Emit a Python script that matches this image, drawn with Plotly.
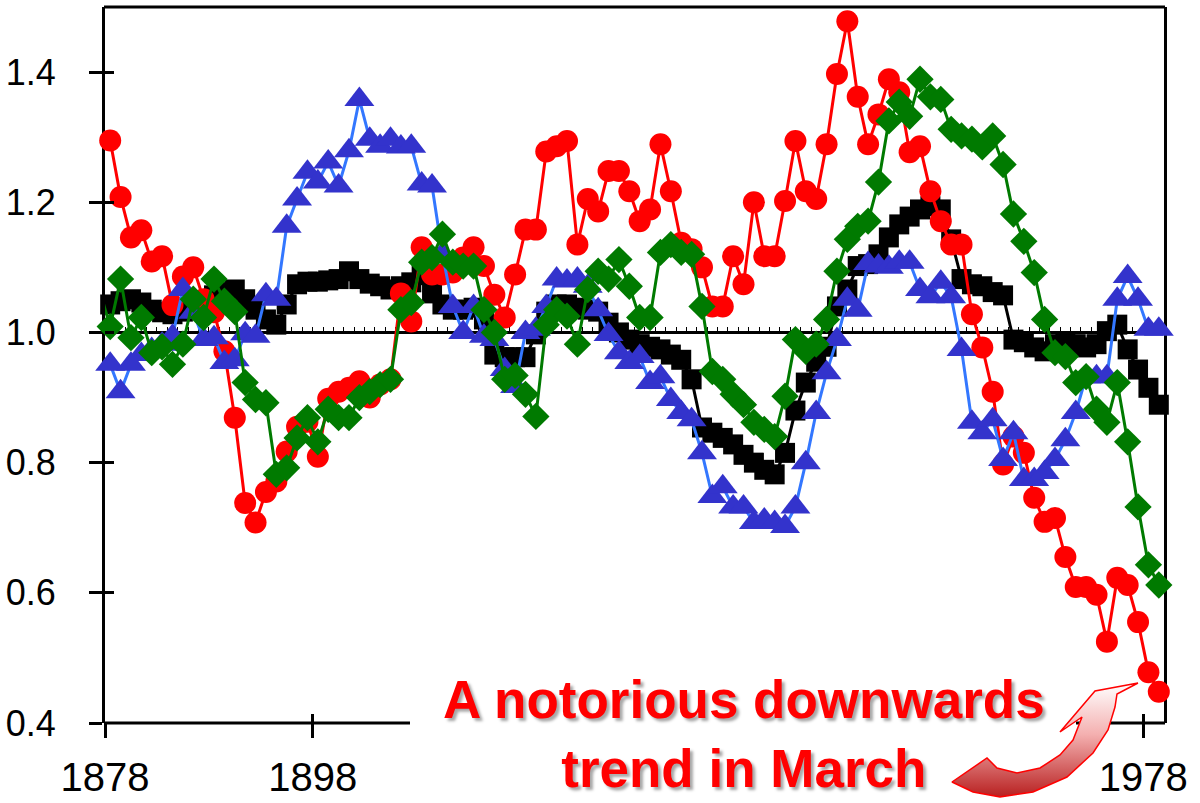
import plotly.graph_objects as go

# ---------------- data ----------------
years = [1877.5 + i for i in range(103)]

red = [1.308, 1.295, 1.208, 1.146, 1.157, 1.109, 1.117, 1.042, 1.086, 1.100,
       1.051, 1.031, 0.971, 0.869, 0.738, 0.708, 0.755, 0.771, 0.817, 0.855,
       0.863, 0.809, 0.898, 0.909, 0.915, 0.925, 0.900, 0.920, 0.928, 1.060,
       1.017, 1.131, 1.089, 1.089, 1.092, 1.115, 1.131, 1.102, 1.058, 1.023,
       1.089, 1.158, 1.158, 1.278, 1.286, 1.294, 1.135, 1.205, 1.186, 1.248,
       1.248, 1.217, 1.171, 1.189, 1.289, 1.217, 1.138, 1.128, 1.100, 1.040,
       1.040, 1.117, 1.074, 1.200, 1.117, 1.117, 1.202, 1.294, 1.217, 1.205,
       1.289, 1.397, 1.478, 1.362, 1.289, 1.335, 1.389, 1.369, 1.277, 1.286,
       1.217, 1.171, 1.135, 1.135, 1.028, 0.977, 0.909, 0.797, 0.840, 0.815,
       0.746, 0.709, 0.715, 0.655, 0.609, 0.609, 0.597, 0.525, 0.623, 0.612,
       0.555, 0.478, 0.448]

black = [1.057, 1.043, 1.048, 1.051, 1.046, 1.035, 1.031, 1.028, 1.032, 1.038,
         1.048, 1.057, 1.062, 1.066, 1.051, 1.035, 1.020, 1.012, 1.043, 1.074,
         1.078, 1.078, 1.080, 1.082, 1.094, 1.082, 1.075, 1.071, 1.066, 1.071,
         1.077, 1.088, 1.060, 1.043, 1.035, 1.035, 1.038, 1.020, 0.966, 0.962,
         0.962, 0.962, 0.997, 1.032, 1.043, 1.043, 1.038, 1.035, 1.032, 1.015,
         1.000, 0.989, 0.982, 0.978, 0.974, 0.966, 0.958, 0.928, 0.854, 0.846,
         0.838, 0.828, 0.812, 0.800, 0.789, 0.782, 0.815, 0.880, 0.923, 0.955,
         0.978, 1.040, 1.066, 1.102, 1.105, 1.120, 1.146, 1.166, 1.178, 1.189,
         1.194, 1.189, 1.143, 1.082, 1.074, 1.071, 1.062, 1.057, 0.989, 0.985,
         0.977, 0.971, 0.982, 0.986, 0.982, 0.977, 0.982, 1.002, 1.012, 0.974,
         0.943, 0.915, 0.889]

blue = [0.966, 0.951, 0.909, 0.951, 0.966, 0.974, 0.982, 0.994, 1.066, 1.031,
        0.989, 0.992, 0.954, 0.958, 0.998, 0.994, 1.058, 1.051, 1.163, 1.205,
        1.246, 1.231, 1.262, 1.225, 1.279, 1.358, 1.297, 1.286, 1.297, 1.285,
        1.286, 1.228, 1.225, 1.120, 1.040, 1.000, 1.040, 0.994, 0.989, 0.943,
        0.917, 1.000, 1.005, 1.040, 1.082, 1.079, 1.082, 1.071, 1.035, 0.997,
        0.969, 0.954, 0.963, 0.923, 0.932, 0.897, 0.877, 0.866, 0.815, 0.748,
        0.763, 0.732, 0.732, 0.708, 0.712, 0.708, 0.702, 0.732, 0.800, 0.877,
        0.938, 0.989, 1.051, 1.034, 1.106, 1.102, 1.100, 1.108, 1.108, 1.066,
        1.055, 1.077, 1.055, 0.974, 0.862, 0.846, 0.866, 0.805, 0.846, 0.774,
        0.774, 0.785, 0.805, 0.835, 0.877, 0.932, 0.932, 0.932, 1.051, 1.086,
        1.051, 1.005, 1.005]

green = [1.063, 1.009, 1.082, 0.992, 1.023, 0.969, 0.978, 0.951, 0.982, 1.051,
         1.023, 1.082, 1.048, 1.032, 0.923, 0.897, 0.892, 0.782, 0.792, 0.838,
         0.869, 0.832, 0.882, 0.869, 0.869, 0.900, 0.909, 0.920, 0.928, 1.035,
         1.046, 1.108, 1.115, 1.151, 1.108, 1.102, 1.102, 1.035, 1.000, 0.928,
         0.934, 0.905, 0.871, 1.012, 1.035, 1.025, 0.982, 1.066, 1.094, 1.082,
         1.112, 1.071, 1.023, 1.023, 1.123, 1.135, 1.123, 1.120, 1.040, 0.940,
         0.928, 0.905, 0.889, 0.862, 0.851, 0.840, 0.902, 0.989, 0.971, 0.982,
         1.020, 1.094, 1.143, 1.163, 1.171, 1.231, 1.325, 1.354, 1.332, 1.389,
         1.362, 1.358, 1.312, 1.302, 1.297, 1.285, 1.302, 1.258, 1.182, 1.140,
         1.092, 1.020, 0.969, 0.963, 0.923, 0.932, 0.882, 0.862, 0.923, 0.832,
         0.732, 0.643, 0.612]

x_tick_vals = [1878, 1898, 1978]
x_tick_text = ["1878", "1898", "1978"]
y_tick_vals = [0.4, 0.6, 0.8, 1.0, 1.2, 1.4]
y_tick_text = ["0.4", "0.6", "0.8", "1.0", "1.2", "1.4"]
reference_level = 1.0
annotation_text = "<b>A notorious downwards</b><br><b>trend in March</b>"

# ---------------- layout geometry (pixels) ----------------
W, H = 1200, 803
PL, PR, PT, PB = 105, 1164, 7, 723
X_RANGE = [1878, 1980]
Y_RANGE = [0.4, 1.5]
xdom = [PL / W, PR / W]
ydom = [1 - PB / H, 1 - PT / H]
ref_pos = ydom[0] + (reference_level - Y_RANGE[0]) / (Y_RANGE[1] - Y_RANGE[0]) * (ydom[1] - ydom[0])


def px(X):
    return X / W


def py(Y):
    return 1 - Y / H


FONT = "Liberation Sans, Arial, sans-serif"
CLEAR = "rgba(0,0,0,0)"

fig = go.Figure()


def add_series(vals, line_color, marker_color, symbol, size):
    fig.add_trace(go.Scatter(
        x=years, y=vals, mode="lines+markers",
        line=dict(color=line_color, width=3),
        marker=dict(symbol=symbol, size=size, color=marker_color, line=dict(width=0)),
        cliponaxis=False, showlegend=False, hoverinfo="skip"))


add_series(black, "#000000", "#000000", "square", 20)
add_series(red, "#FF0000", "#FF0000", "circle", 22)
add_series(blue, "#3377FF", "#3333CC", "triangle-up", 26)
add_series(green, "#007A00", "#007A00", "diamond", 21)

# dummy traces to instantiate helper axes
fig.add_trace(go.Scatter(x=[None], y=[None], xaxis="x2", yaxis="y", showlegend=False, hoverinfo="skip"))
fig.add_trace(go.Scatter(x=[None], y=[None], xaxis="x3", yaxis="y", showlegend=False, hoverinfo="skip"))
fig.add_trace(go.Scatter(x=[None], y=[None], xaxis="x", yaxis="y2", showlegend=False, hoverinfo="skip"))

# curved arrow (decorative outline, pixel space)
arrow_px = [(1138, 683), (1095, 691), (1060, 732), (1082, 717), (1073, 740),
            (1060, 755), (1040, 768), (1017, 773), (997, 768), (987, 758),
            (952, 782), (973, 792), (1000, 797), (1033, 792), (1067, 777),
            (1093, 753), (1108, 730), (1115, 707), (1117, 694), (1138, 683)]
fig.add_trace(go.Scatter(
    x=[p[0] for p in arrow_px], y=[p[1] for p in arrow_px],
    xaxis="x4", yaxis="y4", mode="lines", fill="toself",
    line=dict(color="#FF0000", width=1.5),
    fillgradient=dict(type="vertical", colorscale=[[0, "#b82020"], [0.55, "#f4b0b0"], [1, "#ffffff"]]),
    showlegend=False, hoverinfo="skip"))

axis_common = dict(showgrid=False, zeroline=False, automargin=False)

fig.update_layout(
    width=W, height=H,
    margin=dict(l=0, r=0, t=0, b=0, autoexpand=False),
    paper_bgcolor="white", plot_bgcolor=CLEAR,
    font=dict(family=FONT, color="black"),
    xaxis=dict(domain=xdom, range=X_RANGE, anchor="y", showline=False,
               tickmode="array", tickvals=x_tick_vals, ticktext=x_tick_text,
               ticks="outside", ticklen=14, tickwidth=3, tickcolor="black",
               tickfont=dict(size=40, family=FONT), ticklabelstandoff=5,
               **axis_common),
    xaxis2=dict(domain=xdom, range=X_RANGE, overlaying="x", anchor="free", position=ref_pos,
                showline=True, linecolor="black", linewidth=3, layer="below traces",
                tickmode="linear", tick0=1878, dtick=1, ticks="inside", ticklen=4,
                tickwidth=1, tickcolor="black", showticklabels=False, **axis_common),
    xaxis3=dict(domain=xdom, range=X_RANGE, overlaying="x", anchor="y", showline=False,
                tickmode="array", tickvals=x_tick_vals, ticks="inside", ticklen=9,
                tickwidth=3, tickcolor="black", showticklabels=False, **axis_common),
    yaxis=dict(domain=ydom, range=Y_RANGE, anchor="x",
               showline=True, linecolor="black", linewidth=3, mirror=True, layer="below traces",
               tickmode="array", tickvals=y_tick_vals, ticktext=y_tick_text,
               ticks="outside", ticklen=13, tickwidth=3, tickcolor="black",
               tickfont=dict(size=36, family=FONT), ticklabelstandoff=26,
               **axis_common),
    yaxis2=dict(domain=ydom, range=Y_RANGE, overlaying="y", anchor="x", showline=False,
                tickmode="array", tickvals=y_tick_vals, ticks="inside", ticklen=9,
                tickwidth=3, tickcolor="black", showticklabels=False, **axis_common),
    xaxis4=dict(domain=[0, 1], range=[0, W], visible=False, anchor="y4", fixedrange=True, automargin=False),
    yaxis4=dict(domain=[0, 1], range=[H, 0], visible=False, anchor="x4", fixedrange=True, automargin=False),
)

# frame: top border and the two visible pieces of the bottom axis
frame = dict(type="line", xref="paper", yref="paper", line=dict(color="black", width=3), layer="below")
fig.add_shape(x0=px(PL - 1), x1=px(PR + 1), y0=py(PT), y1=py(PT), **frame)
fig.add_shape(x0=px(PL - 1), x1=px(410), y0=py(PB), y1=py(PB), **frame)
fig.add_shape(x0=px(1076), x1=px(PR + 1), y0=py(PB), y1=py(PB), **frame)

fig.add_annotation(
    xref="paper", yref="paper", x=px(744), y=py(734), xanchor="center", yanchor="middle",
    text=annotation_text, showarrow=False, align="center",
    font=dict(family=FONT, size=53, color="#FF0000", shadow="3px 3px 3px rgba(0,0,0,0.35)"))

fig.write_html("out.html", config={"displayModeBar": False},
               post_script="document.body.style.margin='0';")
